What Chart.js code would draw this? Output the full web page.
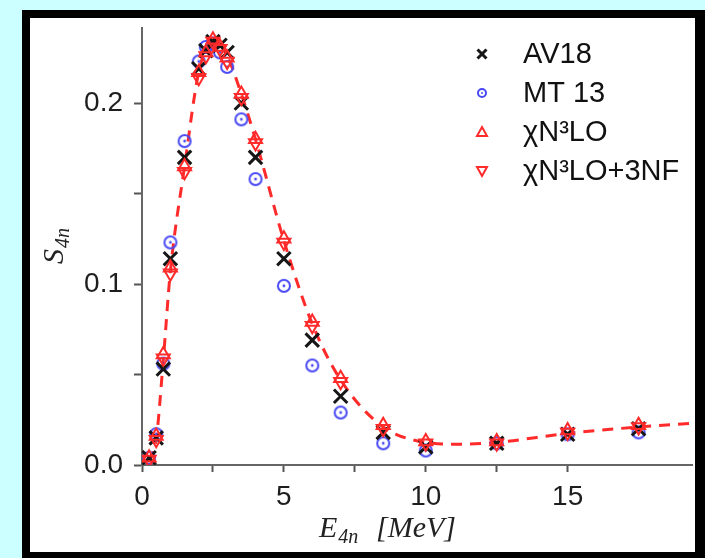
<!DOCTYPE html>
<html lang="en">
<head>
    <meta charset="UTF-8">
    <title>S4n vs E4n</title>
    <style>
        body { margin: 0; background: #ccffff; }
        canvas { display: block; }
    </style>
    <script src="https://cdn.jsdelivr.net/npm/chart.js"></script>
</head>
<body>
    <canvas id="chart" width="705" height="558"></canvas>

    <script>
        // energies (MeV) where the four calculations are given
        const energy = [0.25, 0.5, 0.75, 1.0, 1.5, 2.0, 2.25, 2.5, 2.75, 3.0, 3.5, 4.0, 5, 6, 7, 8.5, 10, 12.5, 15, 17.5];
        const av18   = [0.004, 0.015, 0.053, 0.114, 0.170, 0.219, 0.229, 0.234, 0.232, 0.228, 0.200, 0.170, 0.114, 0.069, 0.038, 0.018, 0.010, 0.012, 0.017, 0.020];
        const mt13   = [0.004, 0.017, 0.056, 0.123, 0.179, 0.223, 0.231, 0.233, 0.228, 0.220, 0.191, 0.158, 0.099, 0.055, 0.029, 0.012, 0.008, 0.012, 0.017, 0.018];
        const n3lo   = [0.004, 0.016, 0.061, 0.109, 0.165, 0.217, 0.228, 0.235, 0.231, 0.225, 0.205, 0.180, 0.125, 0.079, 0.048, 0.022, 0.013, 0.013, 0.019, 0.022];
        const n3lo3nf = [0.003, 0.014, 0.059, 0.106, 0.162, 0.214, 0.226, 0.234, 0.230, 0.223, 0.203, 0.178, 0.123, 0.077, 0.046, 0.020, 0.012, 0.012, 0.018, 0.021];

        // dashed curve
        const curveE = [0.25, 0.5, 0.75, 1.0, 1.5, 2.0, 2.5, 3.0, 3.5, 4.0, 5, 6, 7, 8.5, 10, 11, 12.5, 15, 17.5, 19.4];
        const curveS = [0.002, 0.014, 0.058, 0.107, 0.165, 0.217, 0.235, 0.226, 0.205, 0.180, 0.124, 0.078, 0.047, 0.021, 0.0125, 0.0115, 0.0125, 0.0175, 0.021, 0.023];

        const xTickLabels = ['0', '5', '10', '15'];
        const yTickLabels = ['0.0', '0.1', '0.2'];

        const BLACK = '#161616', BLUE = '#4848f4', RED = '#ff2a2a';

        function pts(xs, ys) {
            return xs.map((x, i) => ({ x: x, y: ys[i] }));
        }

        // blue open circle with a dot in the middle
        function ringDot(r, color) {
            const s = Math.ceil(r * 2 + 4);
            const c = document.createElement('canvas');
            c.width = c.height = s;
            const g = c.getContext('2d');
            g.strokeStyle = color; g.fillStyle = color; g.lineWidth = 2;
            g.beginPath(); g.arc(s / 2, s / 2, r, 0, Math.PI * 2); g.stroke();
            g.beginPath(); g.arc(s / 2, s / 2, 1.4, 0, Math.PI * 2); g.fill();
            return c;
        }

        const framePlugin = {
            id: 'frame',
            beforeDraw(chart) {
                const ctx = chart.ctx;
                ctx.save();
                ctx.fillStyle = '#ccffff';
                ctx.fillRect(0, 0, chart.width, chart.height);
                ctx.fillStyle = '#000';
                ctx.fillRect(22, 10, chart.width - 22, chart.height - 10);
                ctx.fillStyle = '#fff';
                ctx.fillRect(30, 18, 665, 534);
                ctx.restore();
            }
        };

        function legendMarker(ctx, kind, x, y) {
            ctx.save();
            ctx.lineWidth = 2;
            if (kind === 'cross') {
                ctx.strokeStyle = BLACK; ctx.lineWidth = 3;
                ctx.beginPath();
                ctx.moveTo(x - 4.5, y - 4.5); ctx.lineTo(x + 4.5, y + 4.5);
                ctx.moveTo(x + 4.5, y - 4.5); ctx.lineTo(x - 4.5, y + 4.5);
                ctx.stroke();
            } else if (kind === 'ring') {
                ctx.strokeStyle = BLUE; ctx.fillStyle = BLUE;
                ctx.beginPath(); ctx.arc(x, y, 4, 0, Math.PI * 2); ctx.stroke();
                ctx.beginPath(); ctx.arc(x, y, 1, 0, Math.PI * 2); ctx.fill();
            } else {
                const d = kind === 'up' ? 1 : -1;
                ctx.strokeStyle = RED;
                ctx.beginPath();
                ctx.moveTo(x, y - 5 * d);
                ctx.lineTo(x + 5, y + 4 * d);
                ctx.lineTo(x - 5, y + 4 * d);
                ctx.closePath();
                ctx.stroke();
            }
            ctx.restore();
        }

        const labelsPlugin = {
            id: 'labels',
            afterDraw(chart) {
                const ctx = chart.ctx;
                ctx.save();
                // legend
                ctx.font = '29px "Liberation Sans", Arial, sans-serif';
                ctx.fillStyle = '#111';
                ctx.textBaseline = 'middle';
                chart.data.datasets.filter(d => d.marker).forEach((d, i) => {
                    const y = 54 + i * 39;
                    legendMarker(ctx, d.marker, 482, y);
                    ctx.fillText(d.label, 523, y + 1);
                });

                // axis titles with subscripts
                ctx.fillStyle = '#222';
                ctx.textBaseline = 'alphabetic';
                ctx.font = 'italic 30px "Liberation Serif", "Times New Roman", serif';
                ctx.fillText('E', 319, 537);
                let w = ctx.measureText('E').width;
                ctx.font = 'italic 20px "Liberation Serif", "Times New Roman", serif';
                ctx.fillText('4n', 319 + w + 1, 543);
                ctx.font = 'italic 30px "Liberation Serif", "Times New Roman", serif';
                ctx.fillText('[MeV]', 376, 537);

                ctx.translate(63, 264);
                ctx.rotate(-Math.PI / 2);
                ctx.fillText('S', 0, 0);
                w = ctx.measureText('S').width;
                ctx.font = 'italic 20px "Liberation Serif", "Times New Roman", serif';
                ctx.fillText('4n', w + 1, 6);
                ctx.restore();
            }
        };

        const onStep = (v, step) => Math.abs(v / step - Math.round(v / step)) < 1e-6;

        new Chart(document.getElementById('chart'), {
            type: 'scatter',
            data: {
                datasets: [
                    {
                        label: 'AV18', marker: 'cross', order: 3,
                        data: pts(energy, av18),
                        pointStyle: 'crossRot', pointRadius: 9.5, borderWidth: 3,
                        borderColor: BLACK, backgroundColor: BLACK
                    },
                    {
                        label: 'MT 13', marker: 'ring', order: 4,
                        data: pts(energy, mt13),
                        pointStyle: ringDot(6, BLUE), pointRadius: 7,
                        borderColor: BLUE, backgroundColor: BLUE
                    },
                    {
                        label: 'χN³LO', marker: 'up', order: 2,
                        data: pts(energy, n3lo),
                        pointStyle: 'triangle', pointRadius: 7.5, borderWidth: 2,
                        borderColor: RED, backgroundColor: 'rgba(0,0,0,0)'
                    },
                    {
                        label: 'χN³LO+3NF', marker: 'down', order: 1,
                        data: pts(energy, n3lo3nf),
                        pointStyle: 'triangle', rotation: 180, pointRadius: 7.5, borderWidth: 2,
                        borderColor: RED, backgroundColor: 'rgba(0,0,0,0)'
                    },
                    {
                        label: 'curve', order: 5,
                        type: 'line',
                        data: pts(curveE, curveS),
                        showLine: true, pointRadius: 0,
                        borderColor: RED, borderWidth: 3, borderDash: [11, 8],
                        cubicInterpolationMode: 'monotone', fill: false
                    }
                ]
            },
            options: {
                responsive: false,
                animation: false,
                devicePixelRatio: 1,
                layout: { padding: { top: 18, right: 10, left: 0, bottom: 0 } },
                plugins: { legend: { display: false }, tooltip: { enabled: false } },
                scales: {
                    x: {
                        type: 'linear', min: 0, max: 19.4,
                        afterFit: s => { s.height = 93; },
                        grid: {
                            drawOnChartArea: false, tickLength: 7, tickWidth: 2,
                            tickColor: c => onStep(c.tick.value, 2.5) ? '#555' : 'rgba(0,0,0,0)'
                        },
                        border: { color: '#666', width: 2 },
                        ticks: {
                            stepSize: 2.5, autoSkip: false, maxRotation: 0, padding: 8,
                            color: '#1e1e1e',
                            font: { size: 28, family: '"Liberation Sans", Arial, sans-serif' },
                            callback: v => onStep(v, 5) ? (xTickLabels[Math.round(v / 5)] || '') : ''
                        }
                    },
                    y: {
                        type: 'linear', min: 0, max: 0.2416,
                        afterFit: s => { s.width = 142; },
                        grid: {
                            drawOnChartArea: false, tickLength: 8, tickWidth: 2,
                            tickColor: c => onStep(c.tick.value, 0.05) ? '#555' : 'rgba(0,0,0,0)'
                        },
                        border: { color: '#666', width: 2 },
                        ticks: {
                            stepSize: 0.05, autoSkip: false, padding: 11,
                            color: '#1e1e1e',
                            font: { size: 28, family: '"Liberation Sans", Arial, sans-serif' },
                            callback: v => onStep(v, 0.1) ? (yTickLabels[Math.round(v / 0.1)] || '') : ''
                        }
                    }
                }
            },
            plugins: [framePlugin, labelsPlugin]
        });
    </script>
</body>
</html>
